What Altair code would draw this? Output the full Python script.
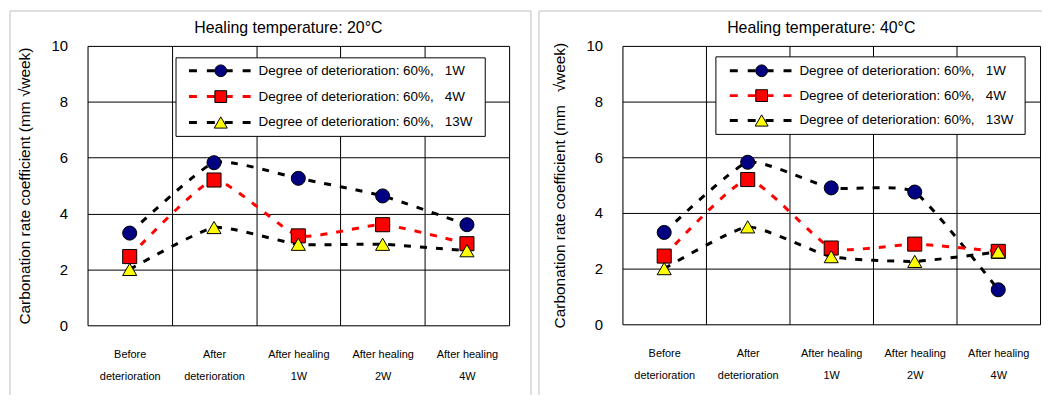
import altair as alt
import pandas as pd

categories = [["Before", "deterioration"], ["After", "deterioration"],
              ["After healing", "1W"], ["After healing", "2W"], ["After healing", "4W"]]
series = ["Degree of deterioration: 60%,\u00a0\u00a0 1W",
          "Degree of deterioration: 60%,\u00a0\u00a0 4W",
          "Degree of deterioration: 60%,\u00a0\u00a0 13W"]
titles = ["Healing temperature: 20°C", "Healing temperature: 40°C"]

t20_1w = [3.30, 5.82, 5.26, 4.63, 3.60]
t20_4w = [2.46, 5.20, 3.20, 3.60, 2.92]
t20_13w = [2.00, 3.50, 2.90, 2.90, 2.67]

t40_1w = [3.30, 5.82, 4.90, 4.75, 1.24]
t40_4w = [2.45, 5.20, 2.74, 2.88, 2.62]
t40_13w = [2.00, 3.50, 2.43, 2.26, 2.60]

FONT = "Liberation Sans"

def js_list(parts):
    return "[" + ",".join("'" + p + "'" for p in parts) + "]"

label_expr = ""
for i, c in enumerate(categories):
    label_expr += f"datum.value == {i} ? {js_list(c)} : "
label_expr += "''"

def make_df(v1, v4, v13):
    rows = []
    for s, vals in zip(series, [v1, v4, v13]):
        for i, v in enumerate(vals):
            rows.append({"series": s, "xi": i, "value": v})
    return pd.DataFrame(rows)

color_scale = alt.Scale(domain=series, range=["black", "red", "black"])
fill_scale = alt.Scale(domain=series, range=["#000080", "#ff0000", "#ffff00"])
shape_scale = alt.Scale(domain=series, range=["circle", "square", "triangle-up"])

def panel(title, v1, v4, v13, w, h, ytitle, leg, frame):
    df = make_df(v1, v4, v13)
    base = alt.Chart(df)
    x = alt.X("xi:Q", scale=alt.Scale(domain=[-0.5, 4.5], nice=False, zero=False),
              axis=alt.Axis(values=[-0.5, 0, 0.5, 1, 1.5, 2, 2.5, 3, 3.5, 4, 4.5],
                            labelExpr=label_expr, title=None, grid=True,
                            gridColor="black", gridWidth=1,
                            gridOpacity={"condition": {"test": "datum.value % 1 != 0", "value": 1}, "value": 0},
                            ticks=False, domain=False, labelFont=FONT, labelFontSize=11,
                            labelLineHeight=23, labelPadding=23, labelOverlap=False,
                            labelFlush=False, labelColor="black", labelBound=False))
    y = alt.Y("value:Q", scale=alt.Scale(domain=[0, 10], nice=False),
              axis=alt.Axis(values=[0, 2, 4, 6, 8, 10], title=ytitle, grid=True,
                            gridColor="black", gridWidth=1, ticks=False, domain=False,
                            labelFont=FONT, labelFontSize=15, labelPadding=20,
                            labelColor="black", titleFont=FONT, titleFontSize=15.5,
                            titleFontWeight="normal", titleColor="black", titlePadding=19))
    lines = base.mark_line(interpolate="cardinal", tension=0.5, strokeDash=[7, 9], strokeWidth=3).encode(
        x=x, y=y, color=alt.Color("series:N", scale=color_scale, legend=None))
    pts = base.mark_point(filled=True, stroke="black", strokeWidth=1, opacity=1).encode(
        x=x, y=y,
        fill=alt.Fill("series:N", scale=fill_scale, legend=None),
        shape=alt.Shape("series:N", scale=shape_scale, legend=None),
        size=alt.Size("series:N", scale=alt.Scale(domain=series, range=[200, 200, 270]), legend=None))
    layers = [lines, pts]
    # legend box
    bx0, bx1, by0, by1, lx0, lx1, mx, tx, ly0, dy = leg
    one = base.transform_filter("datum.xi == 0 && datum.series == '%s'" % series[0])
    layers.append(one.mark_rect(fill="white", stroke="black", strokeWidth=1).encode(
        x=alt.value(bx0), x2=alt.value(bx1), y=alt.value(by0), y2=alt.value(by1)))
    for i, s in enumerate(series):
        sel = base.transform_filter("datum.xi == 0 && datum.series == '%s'" % s)
        yy = ly0 + dy * i
        layers.append(sel.mark_rule(strokeDash=[8, 10], strokeWidth=3).encode(
            x=alt.value(lx0), x2=alt.value(lx1), y=alt.value(yy),
            color=alt.Color("series:N", scale=color_scale, legend=None)))
        layers.append(sel.mark_point(filled=True, stroke="black", strokeWidth=1, opacity=1).encode(
            x=alt.value(mx), y=alt.value(yy),
            fill=alt.Fill("series:N", scale=fill_scale, legend=None),
            shape=alt.Shape("series:N", scale=shape_scale, legend=None),
            size=alt.value(140 if i < 2 else 170)))
        layers.append(sel.mark_text(align="left", baseline="middle", font=FONT, fontSize=13.5,
                                    color="black").encode(
            x=alt.value(tx), y=alt.value(yy), text="series:N"))
    # chart title
    layers.append(one.mark_text(align="center", baseline="middle", font=FONT, fontSize=16,
                                color="black").encode(
        x=alt.value(w / 2 - 10), y=alt.value(-18), text=alt.value(title)))
    # outer frame (chart area border)
    fl, ft, fr, fb, has_right = frame
    fc = "#d4d4d4"
    layers.append(one.mark_rule(color=fc, strokeWidth=1.5).encode(
        x=alt.value(fl), x2=alt.value(fr), y=alt.value(ft)))
    layers.append(one.mark_rule(color=fc, strokeWidth=1.5).encode(
        x=alt.value(fl), y=alt.value(ft), y2=alt.value(fb)))
    if has_right:
        layers.append(one.mark_rule(color=fc, strokeWidth=1.5).encode(
            x=alt.value(fr), y=alt.value(ft), y2=alt.value(fb)))
    return alt.layer(*layers).properties(width=w, height=h)

left = panel(titles[0], t20_1w, t20_4w, t20_13w, 424, 281,
             "Carbonation rate coefficient (mm √week)",
             (89, 400, 12, 91, 102, 164, 134, 172, 25, 26),
             (-78, -35, 446, 351, True))
right = panel(titles[1], t40_1w, t40_4w, t40_13w, 420, 280,
              "Carbonation rate coefficient (mm \u00a0 √week)",
              (94, 405, 11, 89, 108, 171, 140, 178, 25, 25),
              (-84, -35, 422, 351, False))

chart = alt.hconcat(left, right, spacing=4).properties(padding=0).configure_view(
    stroke="black", strokeWidth=3).configure(background="white")

chart.save("out.html", embed_options={"renderer": "svg", "actions": False})
